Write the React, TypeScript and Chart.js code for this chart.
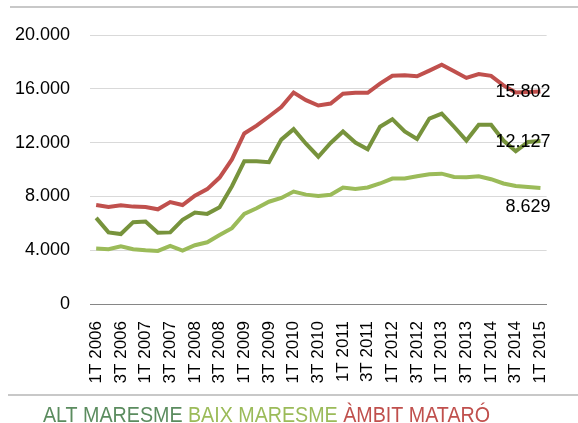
import React, { useEffect, useRef } from "react";
import { Chart, registerables } from "chart.js";

Chart.register(...registerables);

const years = [2006, 2007, 2008, 2009, 2010, 2011, 2012, 2013, 2014, 2015];
const categories: string[] = [];
years.forEach((y) => {
  ["1T", "2T", "3T", "4T"].forEach((q) => categories.push(`${q} ${y}`));
});
const quarterLabels = categories.slice(0, 37);

const altMaresme = [
  6405, 5325, 5200, 6085, 6135, 5300, 5325, 6260, 6800, 6700, 7190, 8760,
  10610, 10610, 10540, 12220, 13000, 11920, 10950, 11975, 12830, 12000, 11510, 13180,
  13740, 12830, 12270, 13790, 14160, 13180, 12150, 13330, 13330, 12150, 11360, 12050, 12127,
];
const baixMaresme = [
  4120, 4075, 4295, 4075, 4000, 3950, 4320, 3975, 4370, 4590, 5130, 5640,
  6700, 7115, 7605, 7880, 8360, 8130, 8030, 8120, 8660, 8560, 8660, 8960,
  9325, 9325, 9500, 9640, 9690, 9450, 9420, 9500, 9280, 8960, 8780, 8700, 8629,
];
const ambitMataro = [
  7360, 7215, 7340, 7240, 7215, 7040, 7580, 7360, 8050, 8540, 9400, 10750,
  12680, 13260, 13940, 14640, 15720, 15160, 14760, 14900, 15630, 15700, 15700, 16390,
  16970, 17000, 16930, 17350, 17790, 17300, 16810, 17100, 16960, 16250, 15730, 15760, 15802,
];

const seriesNames = ["ALT MARESME", "BAIX MARESME", "ÀMBIT MATARÓ"];
const yTicks = [0, 4000, 8000, 12000, 16000, 20000];

const COLORS = {
  alt: "#77933c",
  baix: "#9bbb59",
  ambit: "#c0504d",
};
const LEGEND_COLORS = ["#5b8c5f", "#9bbb59", "#c0504d"];

const fmt = (v: number) => {
  const s = Math.round(v).toString();
  return s.replace(/\B(?=(\d{3})+(?!\d))/g, ".");
};

const decorPlugin = {
  id: "decor",
  afterDraw(chart: any) {
    const ctx = chart.ctx;
    const xs = chart.scales.x;
    const ys = chart.scales.y;
    ctx.save();
    // separator lines
    ctx.strokeStyle = "#c8c8c8";
    ctx.lineWidth = 2;
    ctx.beginPath();
    ctx.moveTo(10, 7);
    ctx.lineTo(578, 7);
    ctx.moveTo(8, 395);
    ctx.lineTo(578, 395);
    ctx.stroke();

    // end labels
    const last = quarterLabels.length - 1;
    const px = xs.getPixelForValue(last);
    const labels = [
      { v: ambitMataro[last], dy: 1 },
      { v: altMaresme[last], dy: 1.5 },
      { v: baixMaresme[last], dy: 19 },
    ];
    ctx.font = "18px 'Liberation Sans', Arial, sans-serif";
    ctx.fillStyle = "#000";
    ctx.textAlign = "right";
    ctx.textBaseline = "middle";
    labels.forEach((l) => {
      ctx.fillText(fmt(l.v), px + 10, ys.getPixelForValue(l.v) + l.dy);
    });

    // legend (condensed look)
    ctx.textAlign = "left";
    ctx.textBaseline = "alphabetic";
    const fam = "'Liberation Sans', Arial, sans-serif";
    ctx.font = `22px ${fam}`;
    const full = seriesNames.join(" ");
    const wFull = ctx.measureText(full).width;
    const sx = 447 / wFull;
    ctx.translate(43, 421.5);
    ctx.scale(sx, 1);
    let x = 0;
    seriesNames.forEach((n, i) => {
      ctx.fillStyle = LEGEND_COLORS[i];
      ctx.fillText(n, x, 0);
      x += ctx.measureText(n + " ").width;
    });
    ctx.restore();
  },
};

export default function App() {
  const ref = useRef<HTMLCanvasElement>(null);
  useEffect(() => {
    if (!ref.current) return;
    const chart = new Chart(ref.current, {
      type: "line",
      data: {
        labels: quarterLabels,
        datasets: [
          {
            label: seriesNames[0],
            data: altMaresme,
            borderColor: COLORS.alt,
            backgroundColor: COLORS.alt,
            borderWidth: 4,
            pointRadius: 0,
            tension: 0,
          },
          {
            label: seriesNames[1],
            data: baixMaresme,
            borderColor: COLORS.baix,
            backgroundColor: COLORS.baix,
            borderWidth: 4,
            pointRadius: 0,
            tension: 0,
          },
          {
            label: seriesNames[2],
            data: ambitMataro,
            borderColor: COLORS.ambit,
            backgroundColor: COLORS.ambit,
            borderWidth: 4,
            pointRadius: 0,
            tension: 0,
          },
        ],
      },
      options: {
        responsive: false,
        animation: false,
        events: [],
        layout: { padding: { left: 0, right: 11, top: 35, bottom: 0 } },
        plugins: {
          legend: { display: false },
          tooltip: { enabled: false },
          title: { display: false },
        },
        scales: {
          x: {
            type: "category",
            offset: true,
            grid: { display: false, drawTicks: false },
            border: { display: true, color: "#868686", width: 1 },
            ticks: {
              autoSkip: false,
              maxRotation: 90,
              minRotation: 90,
              padding: 17,
              color: "#000",
              font: { family: "'Liberation Sans', Arial, sans-serif", size: 17 },
              callback: (_v: any, i: number) => (i % 2 === 0 ? quarterLabels[i] : ""),
            },
            afterFit: (s: any) => {
              s.height = 119;
            },
          },
          y: {
            min: 0,
            max: 20000,
            afterBuildTicks: (s: any) => {
              s.ticks = yTicks.map((v) => ({ value: v }));
            },
            grid: {
              drawTicks: false,
              color: (c: any) => (c.tick && c.tick.value === 0 ? "#868686" : "#d9d9d9"),
              lineWidth: 1,
            },
            border: { display: false },
            ticks: {
              padding: 20,
              color: "#000",
              font: { family: "'Liberation Sans', Arial, sans-serif", size: 18 },
              callback: (v: any) => fmt(Number(v)),
            },
            afterFit: (s: any) => {
              s.width = 90;
            },
          },
        },
      },
      plugins: [decorPlugin],
    });
    return () => chart.destroy();
  }, []);
  return (
    <div style={{ position: "fixed", left: 0, top: 0, width: 578, height: 423, background: "#fff" }}>
      <canvas ref={ref} width={578} height={423} style={{ display: "block" }} />
    </div>
  );
}
